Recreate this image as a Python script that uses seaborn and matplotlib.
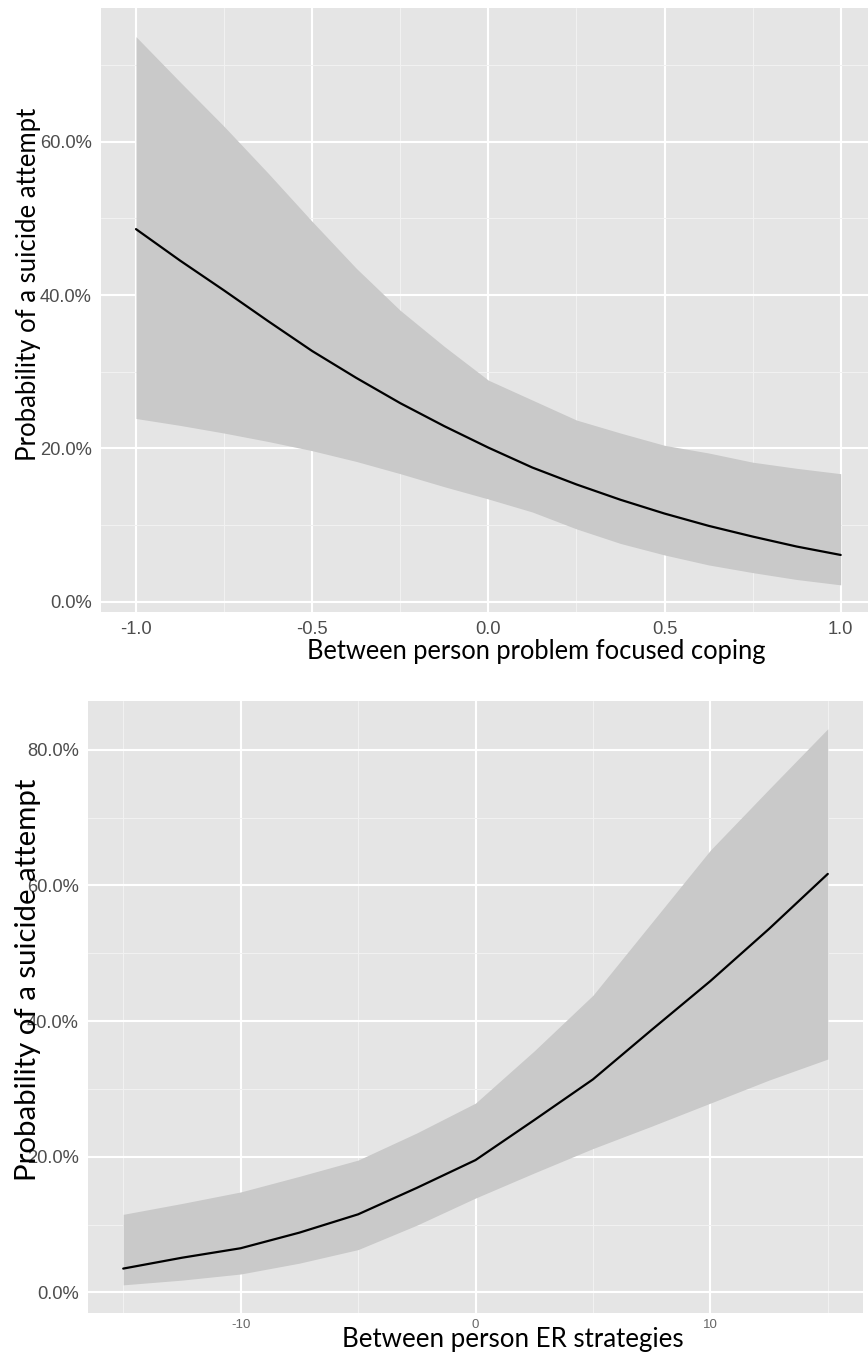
import numpy as np
import pandas as pd
import matplotlib
matplotlib.use("Agg")
import matplotlib.pyplot as plt
import seaborn as sns
from matplotlib.ticker import FixedLocator, FuncFormatter

# ---------------- data ----------------
# Top panel: Between person problem focused coping
coping_x = [-1.0, -0.875, -0.75, -0.625, -0.5, -0.375, -0.25, -0.125, 0.0,
            0.125, 0.25, 0.375, 0.5, 0.625, 0.75, 0.875, 1.0]
coping_fit = [48.6, 44.5, 40.6, 36.6, 32.7, 29.2, 25.9, 22.9, 20.1,
              17.5, 15.3, 13.3, 11.5, 9.9, 8.5, 7.2, 6.1]
coping_upper = [73.7, 67.8, 62.0, 55.9, 49.6, 43.5, 38.0, 33.3, 28.9,
                26.3, 23.7, 22.0, 20.4, 19.4, 18.2, 17.4, 16.7]
coping_lower = [23.9, 23.0, 22.0, 20.9, 19.7, 18.3, 16.7, 15.0, 13.4,
                11.7, 9.5, 7.6, 6.1, 4.8, 3.8, 2.9, 2.2]

# Bottom panel: Between person ER strategies
er_x = [-15, -12.5, -10, -7.5, -5, -2.5, 0, 2.5, 5, 7.5, 10, 12.5, 15]
er_fit = [3.5, 5.1, 6.5, 8.8, 11.5, 15.4, 19.5, 25.4, 31.4, 38.7, 45.9, 53.6, 61.7]
er_upper = [11.5, 13.1, 14.8, 17.1, 19.5, 23.5, 27.9, 35.6, 43.8, 54.5, 65.2, 74.2, 83.1]
er_lower = [1.1, 1.8, 2.7, 4.3, 6.3, 9.9, 13.9, 17.6, 21.2, 24.5, 27.9, 31.3, 34.4]

coping_ticks = [-1.0, -0.5, 0.0, 0.5, 1.0]
coping_tick_labels = ["-1.0", "-0.5", "0.0", "0.5", "1.0"]
coping_yticks = [0, 20, 40, 60]
er_ticks = [-10, 0, 10]
er_tick_labels = ["-10", "0", "10"]
er_yticks = [0, 20, 40, 60, 80]

y_title = "Probability of a suicide attempt"
x_title_top = "Between person problem focused coping"
x_title_bottom = "Between person ER strategies"

df_top = pd.DataFrame({"x": coping_x, "fit": coping_fit,
                       "lo": coping_lower, "hi": coping_upper})
df_bot = pd.DataFrame({"x": er_x, "fit": er_fit, "lo": er_lower, "hi": er_upper})

# ---------------- style ----------------
sns.set_theme(style="darkgrid")
plt.rcParams["font.family"] = ["Liberation Sans", "DejaVu Sans"]

W, H = 868, 1355
fig = plt.figure(figsize=(W / 100, H / 100), dpi=100)
fig.patch.set_facecolor("white")

PANEL = "#E5E5E5"
BAND = "#C9C9C9"
TICKC = "#4D4D4D"
TITLE_FONT = ["Lato", "DejaVu Sans"]


def px_axes(left, top, right, bottom):
    return fig.add_axes([left / W, 1 - bottom / H, (right - left) / W, (bottom - top) / H])


def style_axes(ax, xminor, yminor):
    ax.set_facecolor(PANEL)
    for s in ax.spines.values():
        s.set_visible(False)
    ax.xaxis.set_minor_locator(FixedLocator(xminor))
    ax.yaxis.set_minor_locator(FixedLocator(yminor))
    ax.grid(which="major", color="white", linewidth=1.5)
    ax.grid(which="minor", color="#F2F2F2", linewidth=0.7)
    ax.set_axisbelow(True)
    ax.tick_params(which="major", length=3.5, width=1.0, color="#333333",
                   labelcolor=TICKC, pad=3)
    ax.tick_params(which="minor", length=0)


pct = FuncFormatter(lambda v, p: f"{v:.1f}%")

# ---------------- top panel ----------------
ax1 = px_axes(101, 8, 868, 612)
ax1.fill_between(df_top["x"], df_top["lo"], df_top["hi"], color=BAND, linewidth=0, zorder=2)
sns.lineplot(data=df_top, x="x", y="fit", ax=ax1, color="black", linewidth=1.6, zorder=3)
ax1.set_xlim(-1.0993, 1.0775)
ax1.set_ylim(-1.34, 77.44)
ax1.set_xticks(coping_ticks)
ax1.set_xticklabels(coping_tick_labels)
ax1.set_yticks(coping_yticks)
ax1.yaxis.set_major_formatter(pct)
style_axes(ax1, [-0.75, -0.25, 0.25, 0.75], [10, 30, 50, 70])
ax1.tick_params(axis="both", labelsize=13.2)
ax1.set_xlabel(x_title_top, fontsize=18.4, family=TITLE_FONT, color="black")
ax1.xaxis.set_label_coords(0.567, -0.0646)
ax1.xaxis.label.set_va("center")
ax1.set_ylabel(y_title, fontsize=18.5, family=TITLE_FONT, color="black")
ax1.yaxis.set_label_coords(-0.095, 0.543)
ax1.yaxis.label.set_va("center")

# ---------------- bottom panel ----------------
ax2 = px_axes(88, 701, 863, 1313)
ax2.fill_between(df_bot["x"], df_bot["lo"], df_bot["hi"], color=BAND, linewidth=0, zorder=2)
sns.lineplot(data=df_bot, x="x", y="fit", ax=ax2, color="black", linewidth=1.6, zorder=3)
ax2.set_xlim(-16.5, 16.5)
ax2.set_ylim(-3.05, 87.2)
ax2.set_xticks(er_ticks)
ax2.set_xticklabels(er_tick_labels)
ax2.set_yticks(er_yticks)
ax2.yaxis.set_major_formatter(pct)
style_axes(ax2, [-15, -5, 5, 15], [10, 30, 50, 70])
ax2.tick_params(axis="y", labelsize=13.2)
ax2.tick_params(axis="x", labelsize=9.5, labelcolor="#666666", pad=1)
ax2.set_xlabel(x_title_bottom, fontsize=18.6, family=TITLE_FONT, color="black")
ax2.xaxis.set_label_coords(0.548, -0.0425)
ax2.xaxis.label.set_va("center")
ax2.set_ylabel(y_title, fontsize=21.2, family=TITLE_FONT, color="black")
ax2.yaxis.set_label_coords(-0.0774, 0.544)
ax2.yaxis.label.set_va("center")

fig.savefig("out.png", dpi=100, facecolor="white")
